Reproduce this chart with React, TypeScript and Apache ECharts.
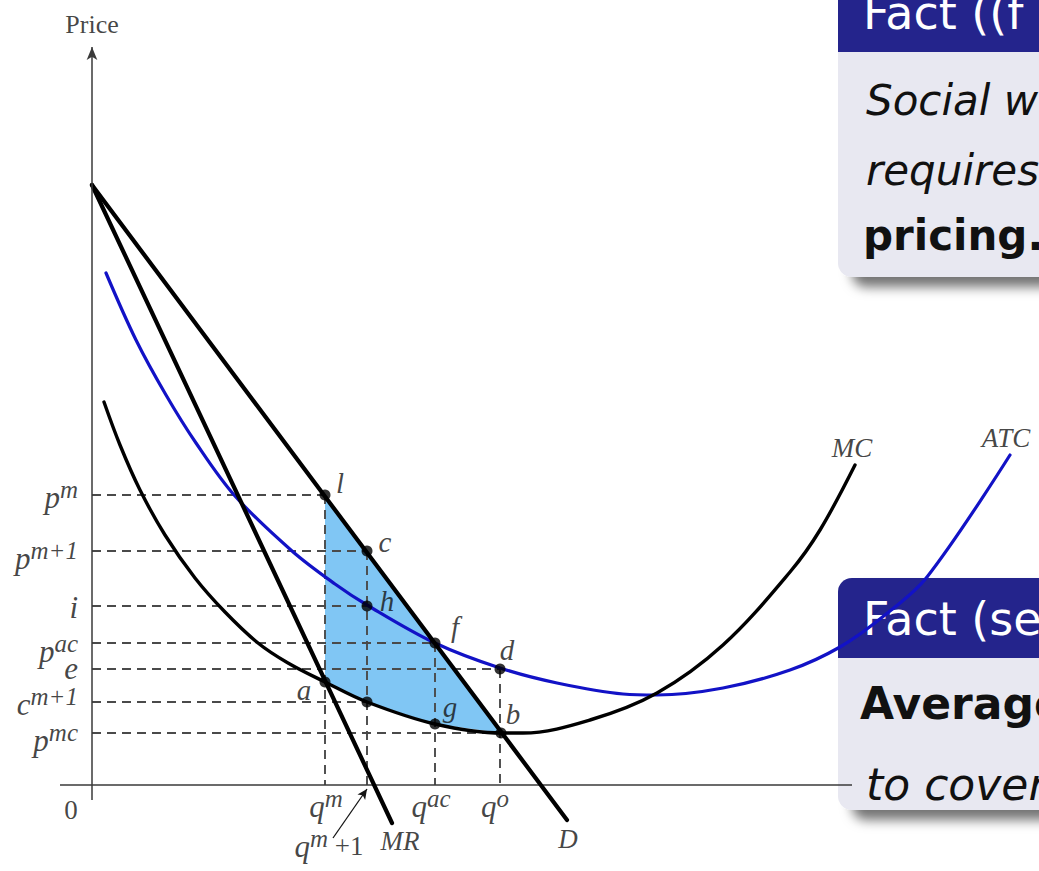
import React, { useEffect, useRef } from 'react';
import * as echarts from 'echarts';

// Quantity on x, price on y (one unit = one pixel on the plot).
const demand = [[0, 600], [475, -35]];
const marginalRevenue = [[0, 600], [300, -38]];
const marginalCost = [
  [12, 383], [28, 340], [48, 295], [73, 250], [103, 207], [133, 173], [166, 142],
  [196, 122], [233, 103], [275, 83], [343, 61], [410, 52], [431, 52], [498, 65],
  [565, 92], [631, 140], [698, 213], [728, 255], [763, 320],
];
const averageTotalCost = [
  [14, 512], [44, 445], [74, 390], [104, 342], [143, 289], [200, 234], [243, 201],
  [275, 180], [343, 142], [408, 117], [465, 102], [531, 91], [565, 90], [631, 97],
  [698, 115], [748, 138], [793, 170], [835, 208], [918, 330],
];

// Marked points on the curves
const pointNames = ['l', 'c', 'h', 'f', 'd', 'a', '', 'g', 'b'];
const pointQuantity = [233, 275, 275, 343, 408, 233, 275, 343, 409];
const pointPrice = [290, 234, 179, 142, 116, 103, 83, 61, 52];

// Price levels on the vertical axis
const priceTickBase = ['p', 'p', 'i', 'p', 'e', 'c', 'p'];
const priceTickSup = ['m', 'm+1', '', 'ac', '', 'm+1', 'mc'];
const priceTicks = [290, 234, 179, 142, 116, 83, 52];
const priceGuideEnd = [233, 275, 275, 343, 408, 275, 409];

// Quantity levels on the horizontal axis
const quantityTickBase = ['q', 'q', 'q'];
const quantityTickSup = ['m', 'ac', 'o'];
const quantityTicks = [233, 343, 408];
const quantityGuides = [233, 275, 343, 408];
const quantityGuideTop = [290, 234, 142, 116];

// Label placement (pixel offsets)
const priceTickDy = [2, 7, 1, 8, -1, 2, 7];
const quantityTickDx = [1, -4, -5];
const pointLabelOffset = [[15, -12], [18, -9], [20, -5], [20, -16], [7, -19], [-21, 8], [0, 0], [15, -17], [12, -19]];

const serif = "'Liberation Serif', 'Times New Roman', serif";
const sans = "'DejaVu Sans', sans-serif";
const ink = '#141414';
const boxFill = '#e8e8f1';
const headFill = '#24248c';

const rich: any = {
  v: { fontFamily: serif, fontStyle: 'italic', fontSize: 31, color: ink },
  s: { fontFamily: serif, fontStyle: 'italic', fontSize: 25, color: ink, verticalAlign: 'top', padding: [0, 0, 16, 0] },
  n: { fontFamily: serif, fontSize: 27, color: ink },
  r: { fontFamily: serif, fontSize: 26, color: ink },
  t: { fontFamily: serif, fontStyle: 'italic', fontSize: 27, color: ink },
  w: { fontFamily: serif, fontStyle: 'italic', fontSize: 29, color: ink },
};

const withSup = (base: string, s: string) => (s ? `{v|${base}}{s|${s}}` : `{v|${base}}`);

function labelItem(x: number, y: number, text: string, offset: number[], align = 'center') {
  return {
    value: [x, y],
    label: {
      show: true,
      position: 'inside',
      align,
      verticalAlign: 'middle',
      offset,
      formatter: () => text,
      rich,
      color: ink,
      textBorderWidth: 0,
    },
  };
}

function guide(a: number[], b: number[]) {
  return {
    type: 'line',
    data: [a, b],
    symbol: 'none',
    silent: true,
    lineStyle: { color: '#4a4a4a', width: 1.9, type: [9, 6] },
    z: 2,
  };
}

function curve(data: number[][], color: string, width: number, smooth: number | boolean) {
  return {
    type: 'line',
    data,
    symbol: 'none',
    smooth,
    silent: true,
    clip: false,
    lineStyle: { color, width, cap: 'round' },
    z: 3,
  };
}

function buildOption(): any {
  const guides: any[] = [];
  priceTicks.forEach((p, i) => guides.push(guide([0, p], [priceGuideEnd[i], p])));
  quantityGuides.forEach((q, i) => guides.push(guide([q, quantityGuideTop[i]], [q, 0])));

  // Shaded welfare region: along demand from l to b, back along marginal cost to a
  const lower = marginalCost.filter((p) => p[0] >= 233 && p[0] <= 410).reverse();
  const shade = [[233, 290], [409, 52], ...lower];

  const labels: any[] = [];
  priceTickBase.forEach((b, i) =>
    labels.push(labelItem(-14, priceTicks[i], withSup(b, priceTickSup[i]), [0, priceTickDy[i]], 'right')),
  );
  quantityTickBase.forEach((b, i) =>
    labels.push(labelItem(quantityTicks[i] + quantityTickDx[i], 0, withSup(b, quantityTickSup[i]), [0, 21])),
  );
  labels.push(labelItem(275, 0, '{v|q}{s|m}{n| +1}', [-38, 61]));
  labels.push(labelItem(marginalRevenue[1][0], marginalRevenue[1][1], '{t|MR}', [8, 18]));
  labels.push(labelItem(demand[1][0], demand[1][1], '{t|D}', [1, 19]));
  const mcEnd = marginalCost[marginalCost.length - 1];
  const atcEnd = averageTotalCost[averageTotalCost.length - 1];
  labels.push(labelItem(mcEnd[0], mcEnd[1], '{t|MC}', [-3, -17]));
  labels.push(labelItem(atcEnd[0], atcEnd[1], '{t|ATC}', [-4, -17]));
  labels.push(labelItem(0, 0, '{n|0}', [-21, 25]));
  labels.push(labelItem(0, 740, '{r|Price}', [0, -21]));
  pointNames.forEach((n, i) => {
    if (n) labels.push(labelItem(pointQuantity[i], pointPrice[i], `{w|${n}}`, pointLabelOffset[i]));
  });

  const boxText = (text: string, x: number, y: number, color: string, size: number, extra: any) => ({
    type: 'text',
    x,
    y,
    style: { text, fill: color, fontFamily: sans, fontSize: size, verticalAlign: 'middle', ...extra },
  });

  const boxShadow = { shadowBlur: 12, shadowOffsetX: 14, shadowOffsetY: 10, shadowColor: 'rgba(0,0,0,0.55)' };

  return {
    animation: false,
    grid: { left: 52, top: 45, width: 987, height: 820 },
    xAxis: { type: 'value', min: -40, max: 947, show: false },
    yAxis: { type: 'value', min: -80, max: 740, show: false },
    series: [
      {
        type: 'custom',
        silent: true,
        data: [[0, 0]],
        z: 1,
        renderItem: (_p: any, api: any) => ({
          type: 'polygon',
          shape: { points: shade.map((pt) => api.coord(pt)) },
          style: { fill: '#80c6f4' },
        }),
      },
      ...guides,
      {
        type: 'line',
        data: [[-32, 0], [760, 0]],
        symbol: 'none',
        silent: true,
        lineStyle: { color: '#3a3a3a', width: 1.5 },
        z: 2,
        markLine: {
          silent: true,
          symbol: ['none', 'arrow'],
          symbolSize: [8, 13],
          label: { show: false },
          emphasis: { disabled: true },
          lineStyle: { color: '#3a3a3a', width: 1.5, type: 'solid' },
          data: [[{ coord: [0, -15] }, { coord: [0, 738] }]],
        },
      },
      curve(averageTotalCost, '#1212c6', 3.2, 0.35),
      curve(marginalCost, '#000000', 3.4, 0.35),
      {
        ...curve(marginalRevenue, '#000000', 4.2, false),
        markLine: {
          silent: true,
          symbol: ['none', 'arrow'],
          symbolSize: [7, 10],
          label: { show: false },
          emphasis: { disabled: true },
          lineStyle: { color: ink, width: 1.3, type: 'solid' },
          data: [[{ coord: [241, -53] }, { coord: [275, -4] }]],
        },
      },
      curve(demand, '#000000', 4.2, false),
      {
        type: 'scatter',
        silent: true,
        symbolSize: 11,
        itemStyle: { color: '#000' },
        data: pointQuantity.map((q, i) => [q, pointPrice[i]]),
        z: 5,
      },
      {
        type: 'scatter',
        silent: true,
        symbolSize: 1,
        itemStyle: { color: 'rgba(0,0,0,0)' },
        data: labels,
        z: 6,
      },
    ],
    graphic: [
      {
        type: 'group',
        z: 100,
        children: [
          { type: 'rect', shape: { x: 838, y: -40, width: 260, height: 317, r: 14 }, style: { fill: boxFill, ...boxShadow } },
          { type: 'rect', shape: { x: 838, y: -40, width: 260, height: 92, r: [14, 14, 0, 0] }, style: { fill: headFill } },
          boxText('Fact ((f', 863, 13, '#ffffff', 46, {}),
          boxText('Social w', 866, 100, '#111', 42, { fontStyle: 'italic' }),
          boxText('requires', 866, 170, '#111', 42, { fontStyle: 'italic' }),
          boxText('pricing.', 863, 235, '#111', 42, { fontWeight: 'bold' }),
          { type: 'rect', shape: { x: 838, y: 578, width: 260, height: 232, r: 14 }, style: { fill: boxFill, ...boxShadow } },
          { type: 'rect', shape: { x: 838, y: 578, width: 260, height: 80, r: [14, 14, 0, 0] }, style: { fill: headFill } },
          boxText('Fact (se', 863, 619, '#ffffff', 46, {}),
          boxText('Average', 860, 703, '#111', 44, { fontWeight: 'bold' }),
          boxText('to cover', 866, 784, '#111', 44, { fontStyle: 'italic' }),
        ],
      },
    ],
  };
}

export default function App() {
  const ref = useRef<HTMLDivElement>(null);
  useEffect(() => {
    document.body.style.margin = '0';
    const chart = echarts.init(ref.current!, null, { renderer: 'svg' });
    chart.setOption(buildOption());
    return () => chart.dispose();
  }, []);
  return <div ref={ref} style={{ width: 1039, height: 871 }} />;
}
